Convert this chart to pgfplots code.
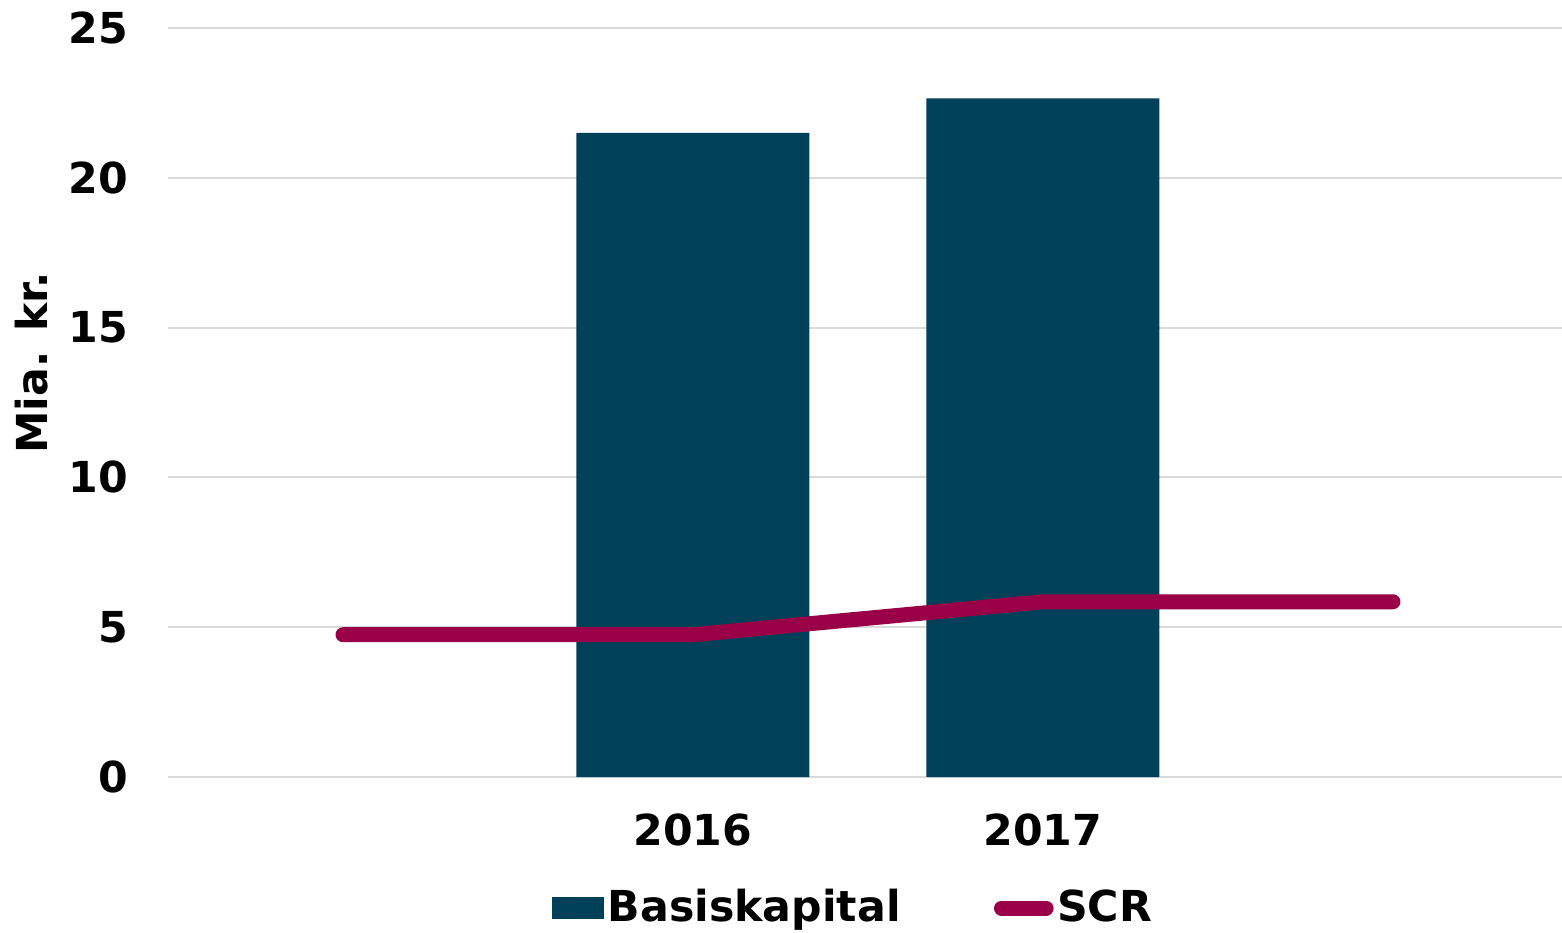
\documentclass[border=0pt]{standalone}
\usepackage{pgfplots}
\pgfplotsset{compat=1.18}
\usepackage{fontspec}
\setmainfont{DejaVu Sans}
\definecolor{basis}{RGB}{0,64,88}
\definecolor{scr}{RGB}{153,0,71}
\definecolor{gridgray}{RGB}{217,217,217}
\begin{document}
\begin{tikzpicture}
% 1 px of the reference = 0.3pt
\useasboundingbox (-50.4pt,-46.5pt) rectangle (418.2pt,233.1pt);
\begin{axis}[
    scale only axis,
    width=418.2pt, height=224.7pt,
    at={(0,0)}, anchor=south west,
    xmin=-0.5, xmax=3.483,
    ymin=0, ymax=25,
    xtick={1,2}, xticklabels={2016,2017},
    ytick={0,5,...,25},
    axis line style={draw=none},
    major tick length=0pt,
    ymajorgrids=true,
    grid style={gridgray, line width=0.6pt},
    font=\bfseries\fontsize{12.8}{15}\selectfont,
    /pgf/number format/assume math mode=true,
    yticklabel style={xshift=-8.5pt},
    xticklabel style={yshift=-7.5pt},
    ylabel={Mia. kr.},
    every axis y label/.style={at={(axis description cs:-0.0976,0.553)}, rotate=90, anchor=center},
    legend columns=2,
    legend style={draw=none, fill=none, at={(axis description cs:0.492,-0.175)}, anchor=center,
        /tikz/every even column/.append style={column sep=27pt},
        nodes={inner sep=1pt}},
]
\addplot[ybar, bar width=69.9pt, fill=basis, draw=none,
    legend image code/.code={\fill[basis] (0pt,-3.3pt) rectangle (15.6pt,3.3pt);}]
    coordinates {(1,21.5) (2,22.65)};
\addlegendentry{Basiskapital}
\addplot[scr, line width=4.5pt, line cap=round, line join=round,
    legend image code/.code={\draw[scr, line width=4.5pt, line cap=round] (2.3pt,0pt) -- (15.7pt,0pt);}]
    coordinates {(0,4.75) (1,4.75) (2,5.85) (3,5.85)};
\addlegendentry{SCR}
\end{axis}
\end{tikzpicture}
\end{document}
